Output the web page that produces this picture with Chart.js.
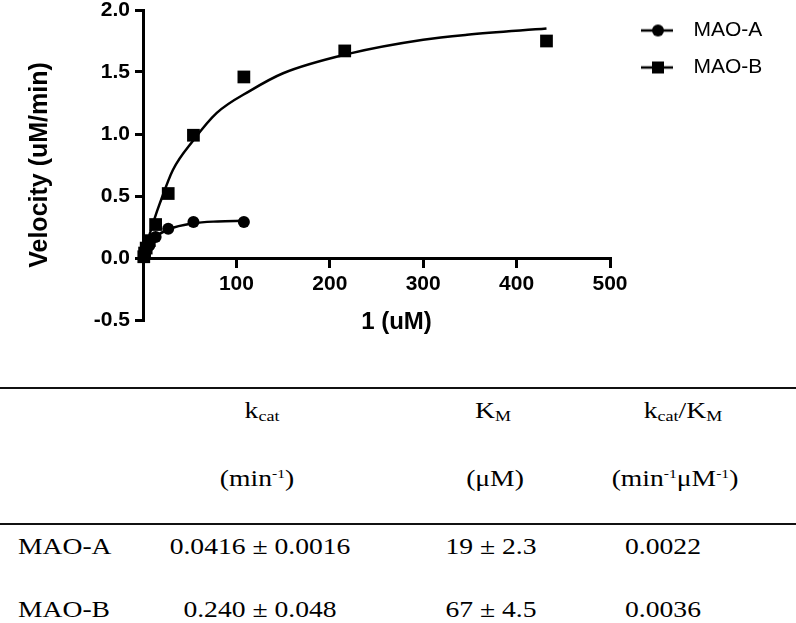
<!DOCTYPE html>
<html>
<head>
<meta charset="utf-8">
<script src="https://cdn.jsdelivr.net/npm/chart.js@4.4.1/dist/chart.umd.min.js"></script>
<style>
  html,body{margin:0;padding:0;background:#fff;}
  body{width:796px;height:623px;position:relative;overflow:hidden;}
  #wrap{position:absolute;left:0;top:0;width:796px;height:345px;}
  .rule{position:absolute;left:0;width:796px;height:2px;background:#111;}
  .cell{position:absolute;white-space:nowrap;font-family:'Liberation Serif','Times New Roman',serif;
        font-size:23px;line-height:23px;color:#000;transform:translateX(-50%) scaleX(1.2);}
  .cell.left{transform:scaleX(1.2);transform-origin:left center;}
  .cell sub{font-size:15px;line-height:0;vertical-align:-3px;}
  .cell sup{font-size:13px;line-height:0;vertical-align:8px;}
</style>
</head>
<body>
<div id="wrap"><canvas id="ch"></canvas></div>
<div id="tbl"></div>
<script>
// ===== data =====
const concA=[0.84,1.7,3.4,6.75,13.5,27,54,108];
const velA=[0.005,0.03,0.06,0.10,0.17,0.235,0.29,0.29];
const concB=[0.84,1.7,3.4,6.75,13.5,27,54,108,216,432];
const velB=[0.01,0.04,0.08,0.14,0.27,0.52,0.99,1.46,1.67,1.75];
// fitted curves
const fitAx=[0,3.4,6.75,13.5,27,54,80,108];
const fitAy=[0,0.065,0.11,0.17,0.23,0.28,0.295,0.30];
const fitBx=[0,3.4,7.5,12,18,32,54,79,115,150,222,300,347,432];
const fitBy=[0,0.10,0.20,0.31,0.44,0.71,0.95,1.17,1.35,1.49,1.65,1.76,1.80,1.85];
const xTicks=[0,100,200,300,400,500];
const yTicks=[-0.5,0,0.5,1.0,1.5,2.0];
const seriesNames=['MAO-A','MAO-B'];

// ===== table =====
const headTop=['k<sub>cat</sub>','K<sub>M</sub>','k<sub>cat</sub>/K<sub>M</sub>'];
const headUnit=['(min<sup>-1</sup>)','(μM)','(min<sup>-1</sup>μM<sup>-1</sup>)'];
const tableRows=[
  ['MAO-A','0.0416 ± 0.0016','19 ± 2.3','0.0022'],
  ['MAO-B','0.240 ± 0.048','67 ± 4.5','0.0036']
];

(function(){
  const tbl=document.getElementById('tbl');
  const add=(html,x,base,left)=>{
    const d=document.createElement('div');
    d.className='cell'+(left?' left':'');
    d.innerHTML=html; d.style.left=x+'px'; d.style.top=(base-19.2)+'px';
    tbl.appendChild(d);
  };
  const rule=y=>{ const d=document.createElement('div'); d.className='rule'; d.style.top=y+'px'; tbl.appendChild(d); };
  rule(387); rule(523);
  [262,493,683].forEach((x,i)=>add(headTop[i],x,418));
  [257,495,675].forEach((x,i)=>add(headUnit[i],x,486));
  const dataCols=[260,491,663], bases=[554,617];
  tableRows.forEach((r,j)=>{
    add(r[0],18,bases[j],true);
    r.slice(1).forEach((v,i)=>add(v,dataCols[i],bases[j]));
  });
})();

// ===== chart =====
const pts=(xs,ys)=>xs.map((x,i)=>({x,y:ys[i]}));

function legendIcon(kind){
  const c=document.createElement('canvas'); c.width=57; c.height=14;
  const g=c.getContext('2d');
  g.strokeStyle='#000'; g.lineWidth=2.5;
  g.beginPath(); g.moveTo(15,7); g.lineTo(47,7); g.stroke();
  g.fillStyle='#000';
  if(kind==='circle'){ g.beginPath(); g.arc(32,7,6,0,Math.PI*2); g.fill(); }
  else g.fillRect(26,1,12,12);
  return c;
}
const icons=[legendIcon('circle'),legendIcon('rect')];

Chart.defaults.font.family="'Liberation Sans', Arial, sans-serif";
Chart.defaults.color='#000';

const cv=document.getElementById('ch');
cv.width=796; cv.height=345;

new Chart(cv,{
  type:'scatter',
  data:{datasets:[
    {label:seriesNames[0],data:pts(concA,velA),showLine:false,pointStyle:'circle',pointRadius:6,
     backgroundColor:'#000',borderColor:'#000',pointBorderWidth:0,clip:false},
    {label:seriesNames[1],data:pts(concB,velB),showLine:false,pointStyle:'rect',pointRadius:9,
     backgroundColor:'#000',borderColor:'#000',pointBorderWidth:0,clip:false},
    {label:'',data:pts(fitAx,fitAy),showLine:true,pointRadius:0,borderColor:'#000',borderWidth:2.5,
     cubicInterpolationMode:'monotone',clip:false},
    {label:'',data:pts(fitBx,fitBy),showLine:true,pointRadius:0,borderColor:'#000',borderWidth:2.5,
     cubicInterpolationMode:'monotone',clip:false}
  ]},
  options:{
    responsive:false, animation:false, devicePixelRatio:1,
    layout:{padding:{left:0,top:4,right:31,bottom:25}},
    plugins:{
      tooltip:{enabled:false},
      legend:{
        position:'right', align:'start', maxWidth:155,
        labels:{
          usePointStyle:true, pointStyleWidth:57, padding:16, color:'#000',
          font:{size:21,weight:'normal'},
          filter:it=>it.text!=='',
          generateLabels:chart=>Chart.defaults.plugins.legend.labels.generateLabels(chart)
            .map(it=>{ if(it.datasetIndex<2) it.pointStyle=icons[it.datasetIndex]; return it; })
        }
      }
    },
    scales:{
      x:{
        type:'linear', position:{y:0},
        min:xTicks[0], max:xTicks[xTicks.length-1],
        afterBuildTicks:s=>{ s.ticks=xTicks.map(v=>({value:v})); },
        ticks:{padding:6,font:{size:21,weight:'bold'},color:'#000',
               callback:v=>v===0?'':String(v)},
        grid:{drawOnChartArea:false,drawTicks:true,tickLength:8,lineWidth:3,color:'#000'},
        border:{display:true,color:'#000',width:3},
        title:{display:true,text:'      1 (uM)',font:{size:24,weight:'bold'},color:'#000',padding:{top:5,bottom:0}}
      },
      y:{
        type:'linear', position:'left',
        min:yTicks[0], max:yTicks[yTicks.length-1],
        afterBuildTicks:s=>{ s.ticks=yTicks.map(v=>({value:v})); },
        afterFit:s=>{ s.width=143; s.paddingTop=10; s.paddingBottom=0; },
        ticks:{padding:5,font:{size:21,weight:'bold'},color:'#000',callback:v=>Number(v).toFixed(1)},
        grid:{drawOnChartArea:false,drawTicks:true,tickLength:8,lineWidth:3,color:'#000'},
        border:{display:true,color:'#000',width:3},
        title:{display:true,text:'Velocity (uM/min)',font:{size:25,weight:'bold'},color:'#000',padding:{top:25,bottom:0}}
      }
    }
  }
});
</script>
</body>
</html>
